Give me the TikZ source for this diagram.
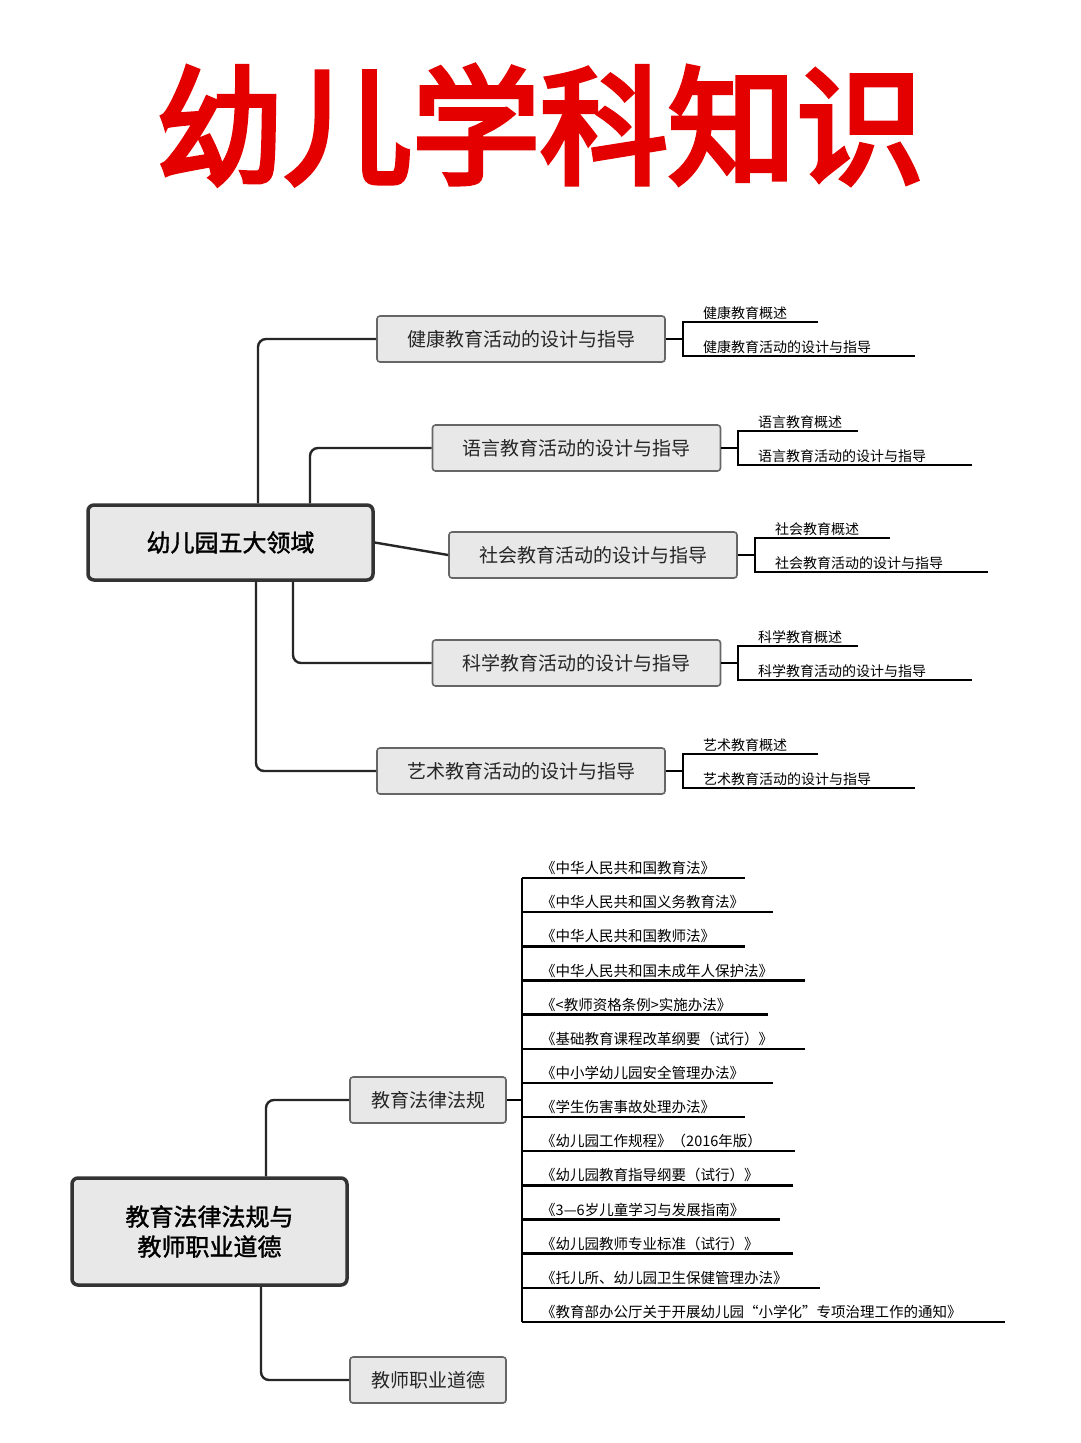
\documentclass[tikz,border=0pt]{standalone}
\usepackage{fontspec}
\setmainfont{Noto Sans CJK SC}
\newfontfamily\titlefont[FakeBold=4]{Noto Sans CJK SC}
\newfontfamily\boldcjk[FakeBold=1.5]{Noto Sans CJK SC}
\begin{document}
\begin{tikzpicture}[x=1pt,y=-1pt,
  rootbox/.style={draw=black!80,line width=3.5pt,rounded corners=6pt,fill=black!9,inner sep=0pt,font=\boldcjk\fontsize{24}{30}\selectfont,align=center},
  midbox/.style={draw=black!60,line width=1.6pt,rounded corners=3pt,fill=black!9,inner sep=0pt,font=\fontsize{19}{22}\selectfont,text=black!85},
  conn/.style={line width=2.4pt,draw=black!85,rounded corners=8pt},
  leaf/.style={line width=2.4pt,draw=black},
  leaftext/.style={anchor=south west,inner sep=2pt,font=\fontsize{14}{16}\selectfont},
  lawtext/.style={anchor=south west,inner sep=3pt,font=\fontsize{14.5}{16}\selectfont}]
\fill[white] (0,0) rectangle (1080,1443);
\useasboundingbox (0,0) rectangle (1080,1443);
\node[text=red!90!black,font=\titlefont\fontsize{128}{130}\selectfont] (title) at (540,125) {幼儿学科知识};
% part 1
\node[rootbox,minimum width=285pt,minimum height=75pt] (r1) at (230.5,542.5) {幼儿园五大领域};
\foreach \i/\cx/\cy/\bx/\la/\lb/\t in {
 1/521/339/683/818/915/健康,
 2/576.5/448/738/858/972/语言,
 3/593/555/755/890/988/社会,
 4/576.5/663/738/858/972/科学,
 5/521/771/683/818/915/艺术}{
  \node[midbox,minimum width=288pt,minimum height=46pt] (b\i) at (\cx,\cy) {\t 教育活动的设计与指导};
  \coordinate (k\i) at (\bx,\cy);
  \coordinate (kt\i) at (\bx,\cy-17);
  \coordinate (kb\i) at (\bx,\cy+17);
  \coordinate (ta\i) at (\la,\cy-17);
  \coordinate (tb\i) at (\lb,\cy+17);
  \draw[leaf] (b\i.east) -- (k\i);
  \draw[leaf] (ta\i) -- (kt\i) -- (kb\i) -- (tb\i);
  \node[leaftext] (la\i) at (kt\i) {\hspace{18pt}\t 教育概述};
  \node[leaftext] (lb\i) at (kb\i) {\hspace{18pt}\t 教育活动的设计与指导};
}
\draw[conn] (r1.north -| 258,0) |- (b1.west);
\draw[conn] (r1.north -| 310,0) |- (b2.west);
\draw[conn,rounded corners=0pt] (r1.east) -- (b3.west);
\draw[conn] (r1.south -| 293,0) |- (b4.west);
\draw[conn] (r1.south -| 256,0) |- (b5.west);
% part 2
\node[rootbox,minimum width=275pt,minimum height=107pt] (r2) at (209.5,1231.5) {教育法律法规与\\教师职业道德};
\node[midbox,minimum width=156pt,minimum height=46pt] (c1) at (428,1100) {教育法律法规};
\node[midbox,minimum width=156pt,minimum height=46pt] (c2) at (428,1380) {教师职业道德};
\draw[conn] (r2.north -| 266,0) |- (c1.west);
\draw[conn] (r2.south -| 261,0) |- (c2.west);
\coordinate (v) at (522,1100);
\coordinate (vt) at (522,878);
\coordinate (vb) at (522,1322);
\draw[leaf] (c1.east) -- (v);
\draw[leaf] (vt) -- (vb);
\foreach \j/\e/\t in {
 0/745/《中华人民共和国教育法》,
 1/773/《中华人民共和国义务教育法》,
 2/745/《中华人民共和国教师法》,
 3/805/《中华人民共和国未成年人保护法》,
 4/768/《<教师资格条例>实施办法》,
 5/805/《基础教育课程改革纲要（试行）》,
 6/773/《中小学幼儿园安全管理办法》,
 7/745/《学生伤害事故处理办法》,
 8/795/《幼儿园工作规程》（2016年版）,
 9/793/《幼儿园教育指导纲要（试行）》,
 10/780/《3—6岁儿童学习与发展指南》,
 11/793/《幼儿园教师专业标准（试行）》,
 12/820/《托儿所、幼儿园卫生保健管理办法》,
 13/1005/《教育部办公厅关于开展幼儿园“小学化”专项治理工作的通知》}{
  \coordinate (ls\j) at (522,878+34.15*\j);
  \coordinate (le\j) at (\e,878+34.15*\j);
  \draw[leaf] (ls\j) -- (le\j);
  \node[lawtext] (lt\j) at (538,878+34.15*\j) {\t};
}
\end{tikzpicture}
\end{document}
